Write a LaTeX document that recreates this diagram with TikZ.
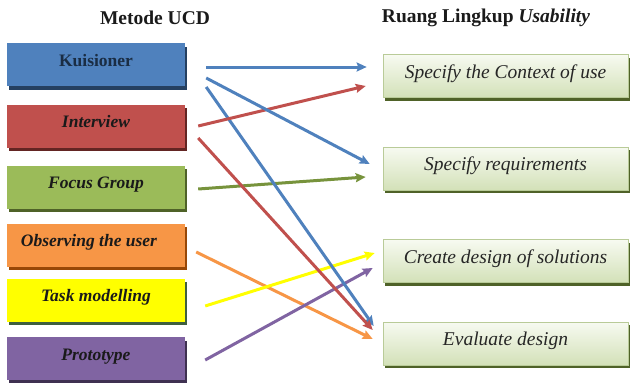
\documentclass[tikz,border=0pt]{standalone}
\usepackage{fontspec}
\setmainfont{Liberation Serif}
\usetikzlibrary{calc,shadows,arrows.meta}

\definecolor{cblue}{HTML}{4F81BD}
\definecolor{cblueD}{HTML}{254061}
\definecolor{cred}{HTML}{C0504D}
\definecolor{credD}{HTML}{632523}
\definecolor{cgreen}{HTML}{9BBB59}
\definecolor{cgreenD}{HTML}{4F6228}
\definecolor{cgreenA}{HTML}{77933C}
\definecolor{corange}{HTML}{F79646}
\definecolor{corangeD}{HTML}{984807}
\definecolor{cyellow}{HTML}{FFFF00}
\definecolor{cyellowD}{HTML}{3F5F3F}
\definecolor{cpurple}{HTML}{8064A2}
\definecolor{cpurpleD}{HTML}{3F3151}
\definecolor{rtop}{HTML}{F7FAF1}
\definecolor{rbot}{HTML}{D3E1B8}
\definecolor{rline}{HTML}{B9CB98}
\definecolor{txt}{HTML}{1A1A1A}

\tikzset{
  method/.style 2 args={draw=none, fill=#1, minimum width=178pt, minimum height=43pt,
    inner sep=0pt, text height=7pt, text depth=4pt,
    font=\fontsize{17.5}{19}\selectfont\bfseries\itshape, text=txt,
    drop shadow={shadow xshift=2pt, shadow yshift=-3.5pt, fill=#2, opacity=1}},
  scope box/.style={draw=rline, line width=0.6pt, top color=rtop, bottom color=rbot,
    minimum width=245pt, minimum height=43pt, inner sep=0pt,
    text height=8pt, text depth=4pt,
    font=\fontsize{19.5}{21}\selectfont\itshape, text=black!85,
    drop shadow={shadow xshift=1.5pt, shadow yshift=-3pt, fill=cgreenD, opacity=1}},
  title/.style={font=\fontsize{19.5}{21}\selectfont\bfseries, text=txt},
  link/.style={line width=3pt, draw=#1, -{Stealth[length=10pt,width=9pt,inset=1.5pt]}}
}

\begin{document}
\begin{tikzpicture}[x=1pt,y=-1pt]
\useasboundingbox (0,0) rectangle (630,383);

% column titles
\node[title] (tl) at (155,18) {Metode UCD};
\node[title] (tr) at (486,18) {Ruang Lingkup \textit{Usability}};

% UCD methods
\node[method={cblue}{cblueD}, font=\fontsize{17.5}{19}\selectfont\bfseries, text=cblueD!70!black] (kui) at (96,64.5) {Kuisioner};
\node[method={cred}{credD}] (int) at (96,126) {Interview};
\node[method={cgreen}{cgreenD}] (foc) at (96,187) {Focus Group};
\node[method={corange}{corangeD}] (obs) at (96,245) {\hspace*{-14pt}Observing the user};
\node[method={cyellow}{cyellowD}] (task) at (96,300) {Task modelling};
\node[method={cpurple}{cpurpleD}] (proto) at (96,358.5) {Prototype};

% usability scope
\node[scope box] (ctx) at (505.5,76) {Specify the Context of use};
\node[scope box] (req) at (505.5,168.5) {Specify requirements};
\node[scope box] (cre) at (505.5,261) {Create design of solutions};
\node[scope box] (eva) at (505.5,343.5) {Evaluate design};

% links from methods to scope
\draw[link=corange] ($(obs.east)+(11,7)$) -- ($(eva.west)+(-10,-4.5)$);
\draw[link=cyellow] ($(task.east)+(20,6)$) -- ($(cre.west)+(-8,-8)$);
\draw[link=cpurple] ($(proto.east)+(20,1.5)$) -- ($(cre.west)+(-10,7)$);
\draw[link=cgreenA] ($(foc.east)+(13,2)$) -- ($(req.west)+(-17,8.5)$);
\draw[link=cblue] ($(kui.east)+(21,22.5)$) -- ($(eva.west)+(-9,-17.5)$);
\draw[link=cred] ($(int.east)+(13,12)$) -- ($(eva.west)+(-10,-13.5)$);
\draw[link=cred] ($(int.east)+(13,0)$) -- ($(ctx.west)+(-17,10)$);
\draw[link=cblue] ($(kui.east)+(21,2.5)$) -- ($(ctx.west)+(-16,-9)$);
\draw[link=cblue] ($(kui.east)+(21,13.5)$) -- ($(req.west)+(-13,-4.5)$);
\end{tikzpicture}
\end{document}
